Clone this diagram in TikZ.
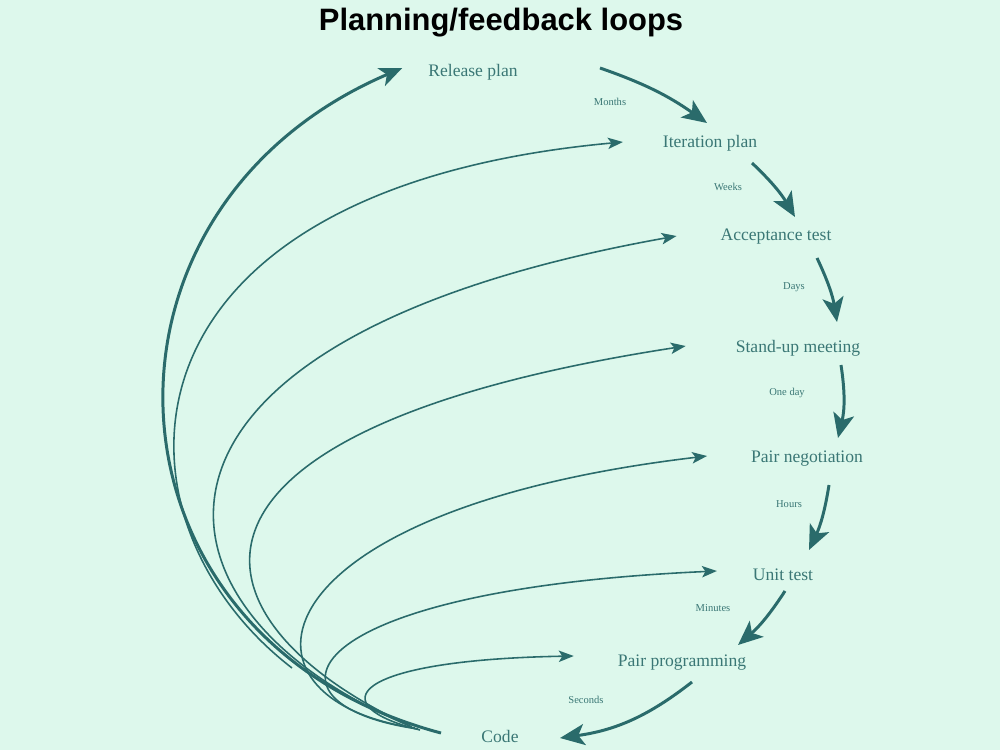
\documentclass[tikz,border=0pt]{standalone}
\usepackage{fontspec}
\setmainfont{Liberation Serif}
\newfontfamily\titlefont{Liberation Sans}
\usepackage{xcolor}
\usepackage{tikz}
\usetikzlibrary{calc, arrows.meta, positioning}

\definecolor{loopbg}{HTML}{DDF8EC}
\definecolor{loopline}{HTML}{2A6B6B}
\definecolor{looptext}{HTML}{3A7775}

\begin{document}
\begin{tikzpicture}[x=0.02cm, y=-0.02cm,
    stage/.style={text=looptext, font=\fontsize{10}{12}\selectfont, inner sep=1pt},
    span/.style={text=looptext, font=\fontsize{6}{7}\selectfont},
    down/.style={draw=loopline, line width=1.7pt, bend left=8,
        -{Stealth[length=14pt, width=12pt, inset=3.5pt]}},
    back/.style={draw=loopline, line width=0.9pt,
        -{Stealth[length=8.5pt, width=6.5pt, inset=2pt]}},
    backbig/.style={draw=loopline, line width=1.7pt,
        -{Stealth[length=13pt, width=11pt, inset=3.5pt]}}]
    \fill[loopbg] (0,0) rectangle (1000,750);
    \useasboundingbox (0,0) rectangle (1000,750);

    \node[font=\titlefont\bfseries\fontsize{17.6}{20}\selectfont] (title) at (501,23) {Planning/feedback loops};

    % stages
    \node[stage] (rel)   at (473,72)  {Release plan};
    \node[stage] (iter)  at (710,143) {Iteration plan};
    \node[stage] (acc)   at (776,237) {Acceptance test};
    \node[stage] (stand) at (798,348) {Stand-up meeting};
    \node[stage] (neg)   at (807,459) {Pair negotiation};
    \node[stage] (unit)  at (783,575) {Unit test};
    \node[stage] (prog)  at (682,663) {Pair programming};
    \node[stage] (code)  at (500,736) {Code};

    % time spans
    \node[span] (months)  at (610,102) {Months};
    \node[span] (weeks)   at (728,187) {Weeks};
    \node[span] (days)    at (794,287) {Days};
    \node[span] (oneday)  at (787,393) {One day};
    \node[span] (hours)   at (789,504) {Hours};
    \node[span] (minutes) at (713,608) {Minutes};
    \node[span] (seconds) at (586,700) {Seconds};

    % planning: down the loop
    \draw[down] ($(rel)+(127,-4)$) to ($(iter)+(-3,-20)$);
    \draw[down] ($(iter)+(42,20)$) to ($(acc)+(19,-20)$);
    \draw[down] ($(acc)+(41,21)$) to ($(stand)+(39,-26)$);
    \draw[down, bend left=11] ($(stand)+(43,17)$) to ($(neg)+(31,-21)$);
    \draw[down] ($(neg)+(22,26)$) to ($(unit)+(26,-25)$);
    \draw[down] ($(unit)+(2,16)$) to ($(prog)+(56,-18)$);
    \draw[down, bend left=15] ($(prog)+(10,19)$) to ($(code)+(60,2)$);

    % feedback: back from the code
    \coordinate (fbrel)   at (441,733);
    \coordinate (fbiter)  at (292,668);
    \coordinate (fbacc)   at (410,726);
    \coordinate (fbstand) at (412,727);
    \coordinate (fbneg)   at (415,728);
    \coordinate (fbunit)  at (418,729);
    \coordinate (fbprog)  at (420,730);
    \draw[backbig] (fbrel) .. controls (90,640) and (70,210) .. ($(rel.west)+(-24,-4)$);
    \draw[back] (fbiter) .. controls (100,520) and (100,190) .. ($(iter.west)+(-38,-1)$);
    \draw[back] (fbacc) .. controls (130,610) and (95,340) .. ($(acc.west)+(-42,-1)$);
    \draw[back] (fbstand) .. controls (180,620) and (140,430) .. ($(stand.west)+(-48,-2)$);
    \draw[back] (fbneg) .. controls (220,700) and (250,510) .. ($(neg.west)+(-42,-3)$);
    \draw[back] (fbunit) .. controls (250,705) and (290,590) .. ($(unit.west)+(-34,-4)$);
    \draw[back] (fbprog) .. controls (320,705) and (350,660) .. ($(prog.west)+(-42,-7)$);
\end{tikzpicture}
\end{document}
